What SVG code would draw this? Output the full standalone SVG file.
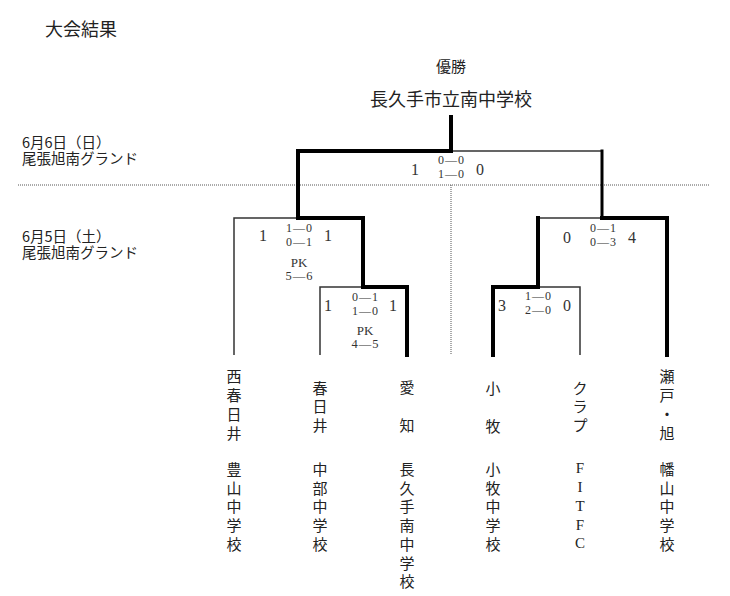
<svg xmlns="http://www.w3.org/2000/svg" width="730" height="596" viewBox="0 0 730 596">
<style>
.jp{font-family:"Noto Sans CJK JP","Noto Sans",sans-serif;fill:#222}
.sc{font-family:"Liberation Serif",serif;fill:#333;text-anchor:middle;dominant-baseline:central}
.big{font-size:16px}
.sm{font-size:12px;letter-spacing:1px}
.pk{font-size:13px}
.pks{font-size:12.5px;letter-spacing:1px}
.tm{font-family:"Noto Sans CJK JP","Noto Sans",sans-serif;font-size:15px;fill:#222;text-anchor:middle;dominant-baseline:central}
.tms{font-family:"Liberation Serif",serif;font-size:15px;fill:#222;text-anchor:middle;dominant-baseline:central}
.thin{fill:none;stroke:#333;stroke-width:1.5}
.thick{fill:none;stroke:#000;stroke-width:4;stroke-linejoin:miter;stroke-linecap:square}
.dot{fill:none;stroke:#555;stroke-width:1;stroke-dasharray:1 1}
</style>
<rect width="730" height="596" fill="#fff"/>
<text class="jp" x="45" y="36" font-size="18">大会結果</text>
<text class="jp" x="451" y="72" font-size="15" text-anchor="middle">優勝</text>
<text class="jp" x="451" y="106" font-size="18" text-anchor="middle">長久手市立南中学校</text>
<g id="dates">
<text class="jp" x="22" y="148" font-size="14.5">6月6日（日）</text>
<text class="jp" x="22" y="163.5" font-size="14.5">尾張旭南グランド</text>
<text class="jp" x="22" y="242" font-size="14.5">6月5日（土）</text>
<text class="jp" x="22" y="258" font-size="14.5">尾張旭南グランド</text>
</g>
<g id="connectors">
<path class="dot" d="M18,185 H710 M451,185 V355"/>
<path class="thin" d="M451,151 H602 M234,355 V218 H298 M320,355 V287 H363 M538,218 H602 M538,287 H580 V355"/>
<path class="thick" d="M451,117 V151 H298 V218 H363 V287 H407 V355"/>
<path class="thick" d="M602,218 H667 V355 M538,218 V287 H493 V355"/>
<path class="thick" style="stroke-width:3" d="M602,151 V218"/>
</g>
<g id="score-final">
<text class="sc big" x="415" y="169">1</text>
<text class="sc sm" x="451.5" y="160">0—0</text>
<text class="sc sm" x="451.5" y="174">1—0</text>
<text class="sc big" x="480" y="169">0</text>
</g>
<g id="score-sf-left">
<text class="sc big" x="263" y="235">1</text>
<text class="sc sm" x="299.5" y="228">1—0</text>
<text class="sc sm" x="299.5" y="242">0—1</text>
<text class="sc big" x="328" y="235">1</text>
<text class="sc pk" x="299" y="262">PK</text>
<text class="sc pks" x="299.5" y="276">5—6</text>
</g>
<g id="score-qf-left">
<text class="sc big" x="328" y="305">1</text>
<text class="sc sm" x="365.5" y="296.5">0—1</text>
<text class="sc sm" x="365.5" y="310.5">1—0</text>
<text class="sc big" x="393" y="305">1</text>
<text class="sc pk" x="365" y="330">PK</text>
<text class="sc pks" x="365.5" y="343.5">4—5</text>
</g>
<g id="score-sf-right">
<text class="sc big" x="567" y="237">0</text>
<text class="sc sm" x="603.5" y="228">0—1</text>
<text class="sc sm" x="603.5" y="242">0—3</text>
<text class="sc big" x="632" y="237">4</text>
</g>
<g id="score-qf-right">
<text class="sc big" x="502" y="305">3</text>
<text class="sc sm" x="538.5" y="296">1—0</text>
<text class="sc sm" x="538.5" y="310">2—0</text>
<text class="sc big" x="567" y="305">0</text>
</g>
<g id="team-nishikasugai">
<text class="tm" x="234" y="375">西</text><text class="tm" x="234" y="394">春</text><text class="tm" x="234" y="413">日</text><text class="tm" x="234" y="432">井</text>
<text class="tm" x="234" y="468">豊</text><text class="tm" x="234" y="487">山</text><text class="tm" x="234" y="505.5">中</text><text class="tm" x="234" y="524.5">学</text><text class="tm" x="234" y="543">校</text>
</g>
<g id="team-kasugai">
<text class="tm" x="320" y="387">春</text><text class="tm" x="320" y="405.5">日</text><text class="tm" x="320" y="424">井</text>
<text class="tm" x="320" y="468">中</text><text class="tm" x="320" y="487">部</text><text class="tm" x="320" y="505.5">中</text><text class="tm" x="320" y="524.5">学</text><text class="tm" x="320" y="543">校</text>
</g>
<g id="team-aichi">
<text class="tm" x="407" y="386">愛</text><text class="tm" x="407" y="424">知</text>
<text class="tm" x="407" y="468">長</text><text class="tm" x="407" y="487">久</text><text class="tm" x="407" y="505.5">手</text><text class="tm" x="407" y="524.5">南</text><text class="tm" x="407" y="543">中</text><text class="tm" x="407" y="562">学</text><text class="tm" x="407" y="580.5">校</text>
</g>
<g id="team-komaki">
<text class="tm" x="493" y="387">小</text><text class="tm" x="493" y="425">牧</text>
<text class="tm" x="493" y="468">小</text><text class="tm" x="493" y="487">牧</text><text class="tm" x="493" y="505.5">中</text><text class="tm" x="493" y="524.5">学</text><text class="tm" x="493" y="543">校</text>
</g>
<g id="team-fitfc">
<text class="tm" x="580" y="387">ク</text><text class="tm" x="580" y="405.5">ラ</text><text class="tm" x="580" y="424">プ</text>
<text class="tms" x="580" y="468">F</text><text class="tms" x="580" y="487">I</text><text class="tms" x="580" y="505.5">T</text><text class="tms" x="580" y="524.5">F</text><text class="tms" x="580" y="543">C</text>
</g>
<g id="team-seto">
<text class="tm" x="667" y="375">瀬</text><text class="tm" x="667" y="394">戸</text><text class="tm" x="667" y="413">・</text><text class="tm" x="667" y="432">旭</text>
<text class="tm" x="667" y="468">幡</text><text class="tm" x="667" y="487">山</text><text class="tm" x="667" y="505.5">中</text><text class="tm" x="667" y="524.5">学</text><text class="tm" x="667" y="543">校</text>
</g>
</svg>
